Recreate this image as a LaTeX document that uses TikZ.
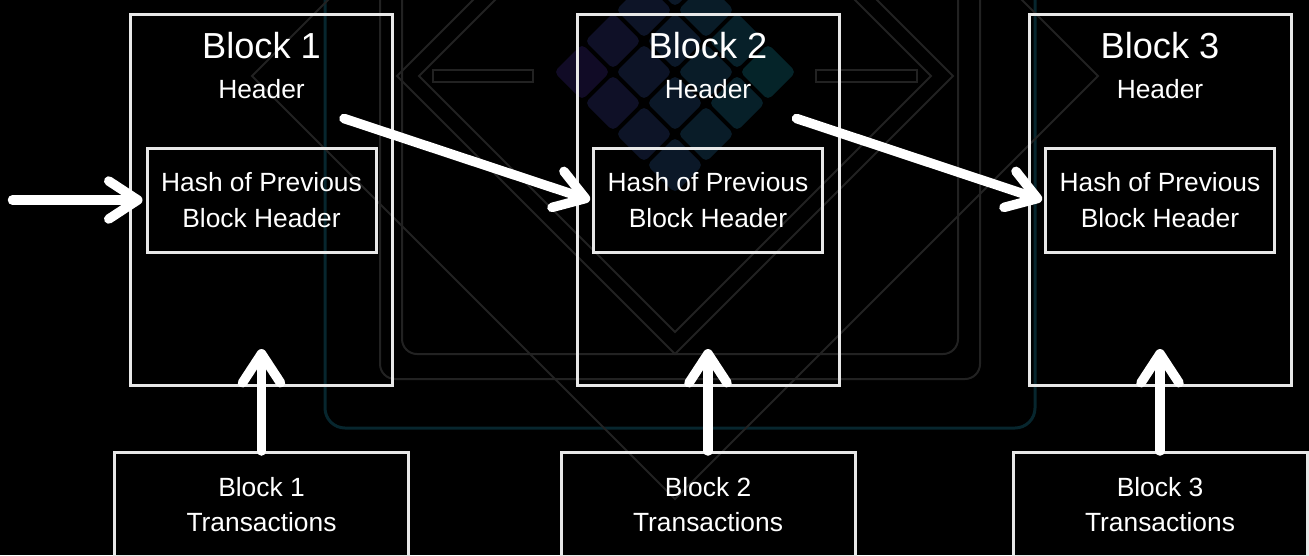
\documentclass[tikz,border=0pt]{standalone}
\usepackage{fontspec}
\setmainfont{Liberation Sans}
\usetikzlibrary{positioning,arrows.meta}
\definecolor{boxgray}{HTML}{E8E8E8}
\definecolor{bgline}{HTML}{222222}
\definecolor{bgteal}{HTML}{07262E}
\definecolor{logopurple}{HTML}{110B26}
\definecolor{logoteal}{HTML}{052529}
\newcommand\blktitlefont{\fontsize{20.6}{24}\selectfont}
\newcommand\blklabelfont{\fontsize{15}{20.4}\selectfont}
\tikzset{
  blockbox/.style={draw=boxgray, line width=0.06cm, minimum width=5.24cm, minimum height=7.42cm, inner sep=0pt},
  hashbox/.style={draw=boxgray, line width=0.06cm, minimum width=4.58cm, minimum height=2.08cm, align=center, text=white, font=\blklabelfont},
  txbox/.style={draw=boxgray, line width=0.06cm, minimum width=5.88cm, minimum height=2.08cm, align=center, text=white, font=\blklabelfont},
  titletext/.style={text=white, font=\blktitlefont, anchor=base, inner sep=0pt},
  headtext/.style={text=white, font=\blklabelfont, anchor=base, inner sep=0pt},
  chainarrow/.style={-{Straight Barb[length=0.58cm, width=0.76cm, round]}, draw=white, line width=0.19cm, line cap=round},
  decoline/.style={draw=bgline, line width=0.04cm}
}

\begin{document}
\begin{tikzpicture}
  \useasboundingbox (0,0) rectangle (26.18,-11.1);
  \fill[black] (0,0) rectangle (26.18,-11.1);
  % faint backdrop
  \draw[bgteal, line width=0.06cm, rounded corners=0.4cm] (6.5,0.5) rectangle (20.7,-8.56);
  \draw[decoline, rounded corners=0.3cm] (7.6,0.5) rectangle (19.6,-7.58);
  \draw[decoline, rounded corners=0.3cm] (8.04,0.5) rectangle (19.16,-7.08);
  \foreach \l in {5.04,7.94,8.38}
    \draw[decoline] (\l,-1.52) -- (13.5,{-1.52-(13.5-\l)}) -- ({27-\l},-1.52) -- (13.5,{-1.52+(13.5-\l)}) -- cycle;
  \draw[decoline] (8.66,-1.4) rectangle (10.66,-1.64);
  \draw[decoline] (16.32,-1.4) rectangle (18.34,-1.64);
  \foreach \i in {0,...,3}
    \foreach \j in {0,...,3} {
      \pgfmathtruncatemacro\mix{50+16*(\i-\j)}
      \fill[logoteal!\mix!logopurple, rounded corners=0.1cm]
        ({13.5+0.62*(\i-\j)},{-1.44-0.62*(\i+\j-3)}) ++(0,0.56) -- ++(0.56,-0.56) -- ++(-0.56,-0.56) -- ++(-0.56,0.56) -- cycle;
    }

  % blocks
  \node[blockbox] (b1) at (5.23,-4.0) {};
  \node[blockbox] (b2) at (14.16,-4.0) {};
  \node[blockbox] (b3) at (23.2,-4.0) {};
  \foreach \k in {1,2,3} {
    \node[titletext] (n\k) at ([yshift=-0.9cm]b\k.north) {Block \k};
    \node[headtext] (r\k) at ([yshift=-1.71cm]b\k.north) {Header};
    \node[hashbox] (h\k) at (b\k) {Hash of Previous\\Block Header};
    \node[txbox, below=1.28cm of b\k] (t\k) {Block \k\\Transactions};
    \draw[chainarrow] (t\k) -- ([yshift=0.76cm]b\k.south);
  }

  % links
  \coordinate (feed) at (0.25,-4.0);
  \coordinate (link1) at ([xshift=-1.0cm,yshift=-2.11cm]b1.north east);
  \coordinate (link2) at ([xshift=-0.88cm,yshift=-2.11cm]b2.north east);
  \draw[chainarrow] (feed) -- ([xshift=-0.06cm]h1.west);
  \draw[chainarrow] (link1) -- ([xshift=-0.04cm]h2.west);
  \draw[chainarrow] (link2) -- ([xshift=-0.04cm]h3.west);
\end{tikzpicture}
\end{document}
